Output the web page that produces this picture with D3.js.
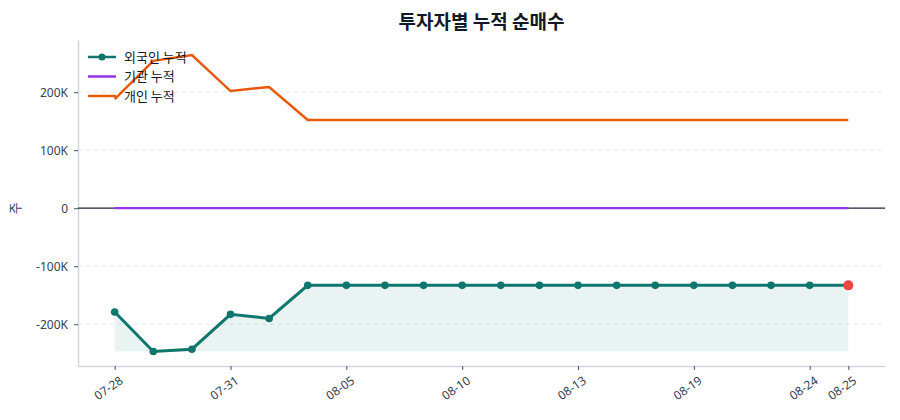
<!DOCTYPE html>
<html>
<head>
<meta charset="utf-8">
<script src="https://cdn.jsdelivr.net/npm/d3@7"></script>
<style>
  body { margin: 0; background: #fff; }
  svg { font-family: "Noto Sans CJK KR", "Noto Sans", sans-serif; }
</style>
</head>
<body>
<div id="chart"></div>
<script>
// categories (trading days)
var dates = ['07-28', '07-29', '07-30', '07-31', '08-01', '08-04', '08-05', '08-06', '08-07', '08-10',
             '08-11', '08-12', '08-13', '08-14', '08-18', '08-19', '08-20', '08-21', '08-24', '08-25'];
var tickDates = ['07-28', '07-31', '08-05', '08-10', '08-13', '08-19', '08-24', '08-25'];

// cumulative net buying (shares)
var foreignCum = [-179000, -247000, -243000, -183000, -190000, -133000, -133000, -133000, -133000, -133000,
                  -133000, -133000, -133000, -133000, -133000, -133000, -133000, -133000, -133000, -133000];
var instCum = [0, 0, 0, 0, 0, 0, 0, 0, 0, 0, 0, 0, 0, 0, 0, 0, 0, 0, 0, 0];
var indivCum = [188000, 254000, 264000, 202000, 209000, 152000, 152000, 152000, 152000, 152000,
                152000, 152000, 152000, 152000, 152000, 152000, 152000, 152000, 152000, 152000];
var yTicks = [-200000, -100000, 0, 100000, 200000];

var W = 900, H = 420;
var margin = { top: 40, right: 15, bottom: 54, left: 78 };
var w = W - margin.left - margin.right,
    h = H - margin.top - margin.bottom;

var svg = d3.select('#chart').append('svg')
    .attr('width', W).attr('height', H);

svg.append('text')
    .attr('x', margin.left + w / 2).attr('y', 29)
    .attr('text-anchor', 'middle')
    .style('font-size', '19px').style('font-weight', 'bold').style('fill', '#111827')
    .text('투자자별 누적 순매수');

var g = svg.append('g').attr('transform', 'translate(' + margin.left + ',' + margin.top + ')');

var x = d3.scalePoint().domain(dates).range([0, w]).padding(0.95);
var y = d3.scaleLinear().domain([-272000, 290000]).range([h, 0]);

// grid
g.selectAll('.grid').data(yTicks).enter().append('line')
    .attr('x1', 0).attr('x2', w)
    .attr('y1', function (d) { return y(d); }).attr('y2', function (d) { return y(d); })
    .style('stroke', '#e5e7eb').style('stroke-dasharray', '4,4');

// axes
var fmt = function (d) { return d === 0 ? '0' : (d / 1000) + 'K'; };
var yAxis = g.append('g').call(d3.axisLeft(y).tickValues(yTicks).tickFormat(fmt)
    .tickSize(4).tickSizeOuter(0).tickPadding(6));
var xAxis = g.append('g').attr('transform', 'translate(0,' + h + ')')
    .call(d3.axisBottom(x).tickValues(tickDates).tickSize(4).tickSizeOuter(0).tickPadding(6));

[yAxis, xAxis].forEach(function (a) {
    a.select('.domain').style('stroke', '#d1d5db').style('stroke-width', 1.5);
    a.selectAll('.tick line').style('stroke', '#4b5563');
    a.selectAll('.tick text').style('fill', '#334155').style('font-size', '12px')
        .style('font-family', '"Noto Sans", sans-serif');
});
xAxis.selectAll('.tick text')
    .attr('text-anchor', 'end')
    .attr('dx', '-0.2em').attr('dy', '0.7em')
    .attr('transform', 'rotate(-35)');

svg.append('text')
    .attr('transform', 'translate(20,' + (margin.top + y(0)) + ') rotate(-90)')
    .attr('text-anchor', 'middle')
    .style('font-size', '13px').style('fill', '#334155')
    .text('주');

// zero line
g.append('line')
    .attr('x1', 0).attr('x2', w).attr('y1', y(0)).attr('y2', y(0))
    .style('stroke', '#1f2937').style('stroke-width', 1.2);

// area under foreign line down to its min
var fMin = d3.min(foreignCum);
g.append('path')
    .datum(foreignCum)
    .attr('d', d3.area()
        .x(function (d, i) { return x(dates[i]); })
        .y0(y(fMin))
        .y1(function (d) { return y(d); }))
    .style('fill', '#0f766e').style('opacity', 0.09);

var line = d3.line().x(function (d, i) { return x(dates[i]); }).y(function (d) { return y(d); });

g.append('path').datum(instCum).attr('d', line)
    .style('fill', 'none').style('stroke', '#9333ea').style('stroke-width', 2.2);
g.append('path').datum(indivCum).attr('d', line)
    .style('fill', 'none').style('stroke', '#ea580c').style('stroke-width', 2.5);
g.append('path').datum(foreignCum).attr('d', line)
    .style('fill', 'none').style('stroke', '#0f766e').style('stroke-width', 3);

g.selectAll('.dot').data(foreignCum.slice(0, -1)).enter().append('circle')
    .attr('cx', function (d, i) { return x(dates[i]); })
    .attr('cy', function (d) { return y(d); })
    .attr('r', 3.8).style('fill', '#0f766e');

var last = foreignCum.length - 1;
g.append('circle')
    .attr('cx', x(dates[last])).attr('cy', y(foreignCum[last]))
    .attr('r', 5).style('fill', '#ef4444');

// legend
var legendItems = [
    { label: '외국인 누적', color: '#0f766e', dot: true },
    { label: '기관 누적', color: '#9333ea', dot: false },
    { label: '개인 누적', color: '#ea580c', dot: false }
];
var lg = svg.append('g').attr('transform', 'translate(88,57)');
legendItems.forEach(function (d, i) {
    var row = lg.append('g').attr('transform', 'translate(0,' + (i * 19.5) + ')');
    row.append('line').attr('x1', 0).attr('x2', 28).attr('y1', 0).attr('y2', 0)
        .style('stroke', d.color).style('stroke-width', 2.5);
    if (d.dot) row.append('circle').attr('cx', 14).attr('cy', 0).attr('r', 3.5).style('fill', d.color);
    row.append('text').attr('x', 36).attr('y', 0).attr('dy', '0.35em')
        .style('font-size', '13px').style('fill', '#111827').text(d.label);
});
</script>
</body>
</html>
